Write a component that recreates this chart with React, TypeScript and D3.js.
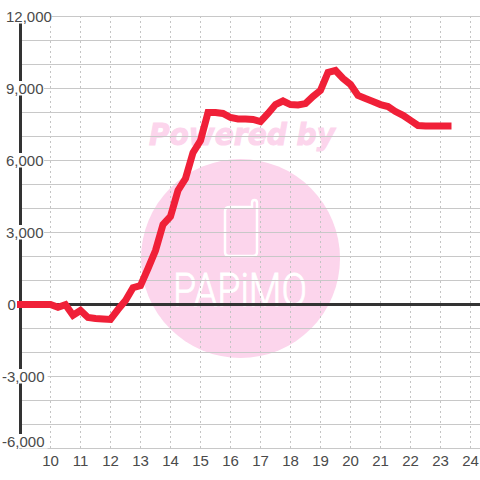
import React from "react";
import * as d3 from "d3";

const hours = [9,9.25,9.5,9.75,10,10.25,10.5,10.75,11,11.25,11.5,11.75,12,12.25,12.5,12.75,13,13.25,13.5,13.75,14,14.25,14.5,14.75,15,15.25,15.5,15.75,16,16.25,16.5,16.75,17,17.25,17.5,17.75,18,18.25,18.5,18.75,19,19.25,19.5,19.75,20,20.25,20.5,20.75,21,21.25,21.5,21.75,22,22.25,22.5,22.75,23,23.25];
const values = [0,0,0,0,0,-120,-10,-450,-250,-540,-580,-600,-620,-210,170,700,790,1500,2250,3330,3670,4750,5250,6330,6830,8000,8000,7960,7790,7730,7730,7710,7620,7960,8330,8480,8330,8310,8370,8670,8920,9670,9750,9420,9170,8710,8580,8460,8330,8250,8040,7880,7670,7460,7440,7440,7440,7440];
const xTicks = [10,11,12,13,14,15,16,17,18,19,20,21,22,23,24];
const gridValues = [12000,11000,10000,9000,8000,7000,6000,5000,4000,3000,2000,1000,-1000,-2000,-3000,-4000,-5000,-6000];
const yLabels = [12000,9000,6000,3000,0,-3000,-6000];

const x = d3.scaleLinear().domain([9, 24]).range([20.5, 470.5]);
const y = d3.scaleLinear().domain([-6000, 12000]).range([448.5, 16.5]);
const fmt = d3.format(",");
const line = d3.line<number>().x((_, i) => x(hours[i])).y((d) => y(d)).curve(d3.curveLinear);

const labelFont = "'Liberation Sans', Arial, sans-serif";

export default function App() {
  return (
    <svg width={480} height={480} style={{ position: "absolute", left: 0, top: 0, background: "#fff" }}>
      <g>
        <circle cx={240.5} cy={258.5} r={99.5} fill="#fcd5ec" />
        <text x={242} y={145} textAnchor="middle" fontFamily="'DejaVu Sans', sans-serif" fontWeight={700} fontStyle="italic" fontSize={30} fill="#fcd5ec" stroke="#fcd5ec" strokeWidth={1} textLength={186} lengthAdjust="spacingAndGlyphs">Powered by</text>
        <path d="M230 207 H252 V203 Q252 200 254.5 200 Q257 200 257 203 V252 Q257 256 253 256 H229 Q225 256 225 252 V211 Q225 207 230 207 Z" fill="none" stroke="#fff" strokeWidth={2.5} />
        <text x={240} y={306} textAnchor="middle" fontFamily="Roboto, sans-serif" fontWeight={300} fontSize={46} fill="#fff" stroke="#fff" strokeWidth={0.8} textLength={134} lengthAdjust="spacingAndGlyphs">PAPiMO</text>
      </g>
      {xTicks.map((t) => (
        <line key={t} x1={x(t)} x2={x(t)} y1={16} y2={448} stroke="#c4c4c4" strokeWidth={1} strokeDasharray="2 3" />
      ))}
      {gridValues.map((v) => (
        <line key={v} x1={20} x2={480} y1={y(v)} y2={y(v)} stroke="#c8c8c8" strokeWidth={1.2} />
      ))}
      <line x1={20} x2={480} y1={y(0)} y2={y(0)} stroke="#333" strokeWidth={3} />
      <line x1={20.5} x2={20.5} y1={y(12000)} y2={y(-6000)} stroke="#333" strokeWidth={3} />
      {yLabels.map((v) => {
        const s = fmt(v).replace("−", "-");
        const w = s.length * 7.6;
        const cy = v === -6000 ? y(v) - 7 : y(v);
        return (
          <g key={v}>
            {v !== 0 && <rect x={0} y={cy - 7.5} width={(v < 0 ? 2 : 6) + w} height={14.5} fill="#fff" />}
            <text x={v < 0 ? 2 : v === 0 ? 7.5 : 6} y={cy + 5} fontFamily={labelFont} fontSize={15} fill="#4a4a4a">{s}</text>
          </g>
        );
      })}
      {xTicks.map((t) => (
        <text key={t} x={x(t)} y={466} textAnchor="middle" fontFamily={labelFont} fontSize={15} fill="#4a4a4a">{t}</text>
      ))}
      <path d={line(values) ?? ""} fill="none" stroke="#f02038" strokeWidth={7} strokeLinejoin="miter" strokeLinecap="square" />
    </svg>
  );
}
